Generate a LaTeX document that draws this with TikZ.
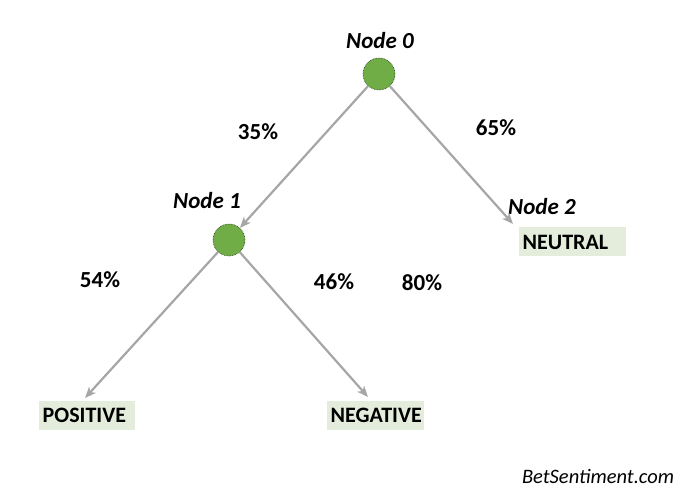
\documentclass[tikz,border=0pt]{standalone}
\usepackage{fontspec}
\setmainfont{Carlito}
\usetikzlibrary{arrows.meta}
\definecolor{nodegreen}{HTML}{70AD47}
\definecolor{boxgreen}{HTML}{E4EDDC}
\definecolor{arrowgray}{HTML}{A6A6A6}
\begin{document}
\begin{tikzpicture}[x=1pt,y=-1pt,
  treenode/.style={circle,fill=nodegreen,draw=black!70!nodegreen,densely dotted,line width=0.6pt,minimum size=32pt,inner sep=0pt},
  leafbox/.style={fill=boxgreen,anchor=west,minimum height=29pt,inner xsep=3.5pt,text width=#1,align=left,font=\fontsize{22}{24}\selectfont\bfseries},
  nodelabel/.style={font=\fontsize{23}{26}\selectfont\bfseries\itshape},
  pct/.style={font=\fontsize{23}{26}\selectfont\bfseries},
  branch/.style={draw=arrowgray,line width=2.2pt,-{Stealth[length=11pt,width=9pt,inset=3pt]}}
]
\useasboundingbox (0,0) rectangle (689,497);
\node[treenode] (n0) at (379,74) {};
\node[treenode] (n1) at (229,240) {};
\node[nodelabel] (l0) at (380,41) {Node 0};
\node[nodelabel] (l1) at (207,201) {Node 1};
\node[nodelabel] (l2) at (542,207) {Node 2};
\node[leafbox=100pt] (neutral) at (519,242) {NEUTRAL};
\node[leafbox=89pt] (positive) at (39,415.5) {POSITIVE};
\node[leafbox=90pt] (negative) at (327,415.5) {NEGATIVE};
\coordinate (t2) at (513,224);
\coordinate (tp) at (85,398);
\coordinate (tn) at (368,397);
\draw[branch] (n0) -- (n1);
\draw[branch] (n0) -- (t2);
\draw[branch] (n1) -- (tp);
\draw[branch] (n1) -- (tn);
\node[pct] (p35) at (258,132) {35\%};
\node[pct] (p65) at (496,128) {65\%};
\node[pct] (p54) at (100,280) {54\%};
\node[pct] (p46) at (334,282) {46\%};
\node[pct] (p80) at (422,283) {80\%};
\node[font=\fontsize{20.5}{24}\selectfont\itshape] (brand) at (598,476) {BetSentiment.com};
\end{tikzpicture}
\end{document}
